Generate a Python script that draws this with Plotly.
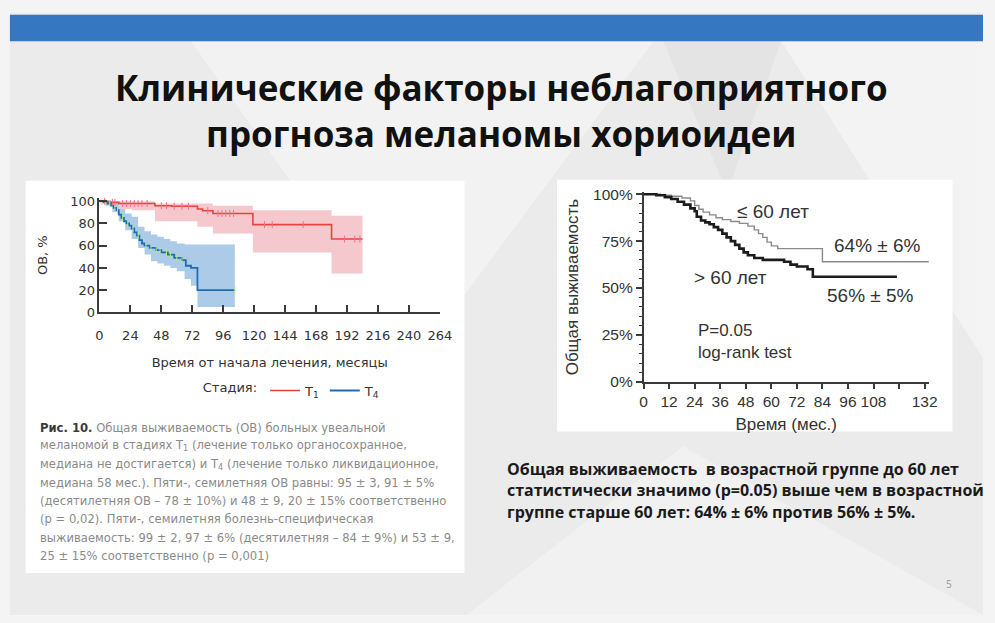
import numpy as np
import plotly.graph_objects as go

W, H = 995, 623

# ---------------- Left chart: overall survival by stage (months, %) ----------------
t1_time = [0, 8, 15, 43, 56, 76, 80, 88, 119, 180, 204]
t1_surv = [100, 99, 98, 96, 95.5, 93, 91.5, 89, 79, 66, 66]
t1_ci_time = [0, 5, 15, 25, 43, 76, 88, 119, 180, 204]
t1_ci_low = [100, 97, 93, 92, 82, 77, 71, 54, 35, 35]
t1_ci_up = [100, 100, 100, 100, 98, 98, 96, 92, 87, 87]
t1_censored = [4, 10, 12, 18, 21, 24, 27, 30, 33, 37, 48, 52, 58, 64, 69, 84,
               92, 95, 98, 101, 104, 128, 134, 158, 190, 198, 202]

t4_time = [0, 3, 6, 9, 11, 13, 15, 17, 19, 21, 23, 25, 27, 29, 31, 33, 35, 39,
           44, 48, 53, 58, 64, 67, 71, 76, 105]
t4_surv = [100, 99, 98, 96, 94, 92, 88, 85, 82, 80, 78, 75.5, 72, 69, 65, 62, 60,
           58, 56, 54, 52, 49, 47, 42, 40, 20, 20]
t4_ci_time = [0, 5, 10, 15, 20, 25, 30, 35, 40, 45, 50, 55, 60, 66, 71, 76, 105]
t4_ci_up = [100, 100, 98, 93, 89, 86, 77, 73, 70, 68, 66, 64, 62, 61, 61, 61, 61]
t4_ci_low = [100, 96, 90, 82, 74, 66, 58, 52, 46, 44, 42, 40, 37, 30, 24, 5, 5]
t4_censored = [2, 5, 8, 12, 14, 18, 22, 26, 30, 36, 40, 44, 47, 52, 55, 60, 64, 105]

left_xticks = list(range(0, 265, 24))
left_yticks = list(range(0, 101, 20))

# ---------------- Right chart: overall survival by age group ----------------
young_time = [0, 8, 13, 18, 22, 24, 26, 28, 31, 34, 37, 41, 45, 49, 52, 54, 56, 58,
              60, 63, 84, 134]
young_surv = [100, 99.5, 99, 98, 96.5, 94, 92, 90.5, 89, 87.5, 86.5, 85.5, 84.5, 83,
              81, 79, 77, 74.5, 72.5, 71, 64, 64]
young_err = 6
old_time = [0, 6, 10, 13, 16, 19, 22, 24, 25, 27, 29, 31, 33, 35, 37, 39, 41, 43, 45,
            47, 49, 52, 56, 66, 69, 72, 77, 79.5, 119]
old_surv = [100, 99.5, 98.5, 97.5, 96, 94.5, 92.5, 91, 88, 86, 85, 84, 82.5, 81, 79,
            77, 75, 73, 71, 69, 67.5, 66, 65, 64, 62.5, 61.5, 60, 56, 56]
old_err = 5

# labelled ticks every 12 months (120 carries a tick but no label)
right_xticks = [0, 12, 24, 36, 48, 60, 72, 84, 96, 108, 132]
right_xtick_step = 12
right_yticks = [0, 25, 50, 75, 100]
right_ylabels = [f"{v}%" for v in right_yticks]

caption_lines = [
    "<b><span style='color:#3a3a3a'>Рис. 10.</span></b> Общая выживаемость (ОВ) больных увеальной",
    "меланомой в стадиях T<sub>1</sub> (лечение только органосохранное,",
    "медиана не достигается) и T<sub>4</sub> (лечение только ликвидационное,",
    "медиана 58 мес.). Пяти-, семилетняя ОВ равны: 95 ± 3, 91 ± 5%",
    "(десятилетняя ОВ – 78 ± 10%) и 48 ± 9, 20 ± 15% соответственно",
    "(p = 0,02). Пяти-, семилетняя болезнь-специфическая",
    "выживаемость: 99 ± 2, 97 ± 6% (десятилетняя – 84 ± 9%) и 53 ± 9,",
    "25 ± 15% соответственно (p = 0,001)",
]
summary_lines = [
    "Общая выживаемость  в возрастной группе до 60 лет",
    "статистически значимо (p=0.05) выше чем в возрастной",
    "группе старше 60 лет: 64% ± 6% против 56% ± 5%.",
]
title_lines = ["Клинические факторы неблагоприятного", "прогноза меланомы хориоидеи"]


def px(x):
    return x / W


def py(y):
    return 1 - y / H


def step_value(times, values, at):
    idx = np.searchsorted(np.asarray(times), np.asarray(at), side="right") - 1
    return np.asarray(values)[idx]


RED = "#e2453c"
BLUE = "#1f6db0"
LEFT_FONT = "DejaVu Sans"
RIGHT_FONT = "Liberation Sans, Arial"

fig = go.Figure()

# confidence bands
fig.add_trace(go.Scatter(x=t1_ci_time, y=t1_ci_low, mode="lines", line=dict(width=0, shape="hv"),
                         showlegend=False, hoverinfo="skip", xaxis="x", yaxis="y"))
fig.add_trace(go.Scatter(x=t1_ci_time, y=t1_ci_up, mode="lines", line=dict(width=0, shape="hv"),
                         fill="tonexty", fillcolor="rgba(228,110,125,0.38)",
                         showlegend=False, hoverinfo="skip", xaxis="x", yaxis="y"))
fig.add_trace(go.Scatter(x=t4_ci_time, y=t4_ci_low, mode="lines", line=dict(width=0, shape="hv"),
                         showlegend=False, hoverinfo="skip", xaxis="x", yaxis="y"))
fig.add_trace(go.Scatter(x=t4_ci_time, y=t4_ci_up, mode="lines", line=dict(width=0, shape="hv"),
                         fill="tonexty", fillcolor="rgba(70,140,205,0.45)",
                         showlegend=False, hoverinfo="skip", xaxis="x", yaxis="y"))

# survival curves
fig.add_trace(go.Scatter(x=t1_time, y=t1_surv, mode="lines", name="T<sub>1</sub>",
                         line=dict(color=RED, width=1.6, shape="hv"), xaxis="x", yaxis="y"))
fig.add_trace(go.Scatter(x=t4_time, y=t4_surv, mode="lines", name="T<sub>4</sub>",
                         line=dict(color=BLUE, width=1.8, shape="hv"), xaxis="x", yaxis="y"))

# censored observations
fig.add_trace(go.Scatter(x=t1_censored, y=step_value(t1_time, t1_surv, t1_censored), mode="markers",
                         marker=dict(symbol="line-ns-open", size=5, line=dict(color=RED, width=1)),
                         showlegend=False, hoverinfo="skip", xaxis="x", yaxis="y"))
fig.add_trace(go.Scatter(x=t4_censored, y=step_value(t4_time, t4_surv, t4_censored), mode="markers",
                         marker=dict(symbol="line-ns-open", size=5, line=dict(color=BLUE, width=1)),
                         showlegend=False, hoverinfo="skip", xaxis="x", yaxis="y"))

# right chart curves
fig.add_trace(go.Scatter(x=young_time, y=young_surv, mode="lines", name="≤ 60 лет",
                         line=dict(color="#8a8a8a", width=1.4, shape="hv"),
                         showlegend=False, xaxis="x2", yaxis="y2"))
fig.add_trace(go.Scatter(x=old_time, y=old_surv, mode="lines", name="> 60 лет",
                         line=dict(color="#1c1c1c", width=2.6, shape="hv"),
                         showlegend=False, xaxis="x2", yaxis="y2"))

shapes = [
    # slide
    dict(type="rect", xref="paper", yref="paper", x0=px(6), x1=1, y0=0, y1=py(6),
         fillcolor="#ebebeb", line=dict(width=0), layer="below"),
    dict(type="path", xref="paper", yref="paper", layer="below", line=dict(width=0),
         fillcolor="#f2f2f2",
         path=f"M {px(190)} {py(35)} L {px(660)} {py(35)} L {px(420)} {py(360)} Z"),
    dict(type="path", xref="paper", yref="paper", layer="below", line=dict(width=0),
         fillcolor="#f3f3f3",
         path=f"M {px(790)} {py(35)} L {px(995)} {py(35)} L {px(995)} {py(360)} Z"),
    dict(type="path", xref="paper", yref="paper", layer="below", line=dict(width=0),
         fillcolor="#e4e4e4",
         path=f"M {px(670)} {py(35)} L {px(790)} {py(35)} L {px(735)} {py(190)} Z"),
    dict(type="path", xref="paper", yref="paper", layer="below", line=dict(width=0),
         fillcolor="#f1f1f1",
         path=f"M {px(470)} {py(623)} L {px(690)} {py(450)} L {px(995)} {py(623)} Z"),
    # header bar
    dict(type="rect", xref="paper", yref="paper", x0=px(6), x1=1, y0=py(35), y1=py(8),
         fillcolor="#3577c1", line=dict(width=0), layer="below"),
    # chart panels
    dict(type="rect", xref="paper", yref="paper", x0=px(22), x1=px(468), y0=py(580), y1=py(178),
         fillcolor="#ffffff", line=dict(width=0), layer="below"),
    dict(type="rect", xref="paper", yref="paper", x0=px(562), x1=px(964), y0=py(435), y1=py(177),
         fillcolor="#ffffff", line=dict(width=0), layer="below"),
]

annotations = [
    dict(text="<b>" + "<br>".join(title_lines) + "</b>", xref="paper", yref="paper",
         x=px(506), y=py(106), xanchor="center", yanchor="middle", align="center",
         showarrow=False, font=dict(family="Open Sans", size=35, color="#111111")),
]
for i, line in enumerate(caption_lines):
    annotations.append(dict(text=line, xref="paper", yref="paper", x=px(35), y=py(431 + 18.8 * i),
                            xanchor="left", yanchor="middle", showarrow=False,
                            font=dict(family=LEFT_FONT, size=11.6, color="#8a8a8a")))
for i, line in enumerate(summary_lines):
    annotations.append(dict(text=f"<b>{line}</b>", xref="paper", yref="paper", x=px(509),
                            y=py(473 + 22 * i), xanchor="left", yanchor="middle", showarrow=False,
                            font=dict(family="Open Sans", size=16, color="#1a1a1a")))

rfont = dict(family=RIGHT_FONT, size=19, color="#333333")
annotations += [
    dict(text="≤ 60 лет", xref="x2", yref="y2", x=61, y=90.6, showarrow=False, font=rfont),
    dict(text=f"{young_surv[-1]:g}% ± {young_err}%", xref="x2", yref="y2", x=110, y=72.5,
         showarrow=False, font=rfont),
    dict(text="> 60 лет", xref="x2", yref="y2", x=41, y=55.5, showarrow=False, font=rfont),
    dict(text=f"{old_surv[-1]:g}% ± {old_err}%", xref="x2", yref="y2", x=106.5, y=46,
         showarrow=False, font=rfont),
    dict(text="P=0.05<br>log-rank test", xref="x2", yref="y2", x=24.5, y=21.7,
         xanchor="left", yanchor="middle", align="left", showarrow=False,
         font=dict(family=RIGHT_FONT, size=17, color="#333333")),
    dict(text="5", xref="paper", yref="paper", x=px(966), y=py(600), showarrow=False,
         font=dict(family="Open Sans", size=10, color="#9a9a9a")),
]

axis_common = dict(showgrid=False, zeroline=False, showline=True, linecolor="#3a3a3a",
                   linewidth=1.5, tickcolor="#3a3a3a", tickwidth=1.5)

fig.update_layout(
    width=W, height=H, margin=dict(l=0, r=0, t=0, b=0),
    paper_bgcolor="#f4f4f4", plot_bgcolor="rgba(0,0,0,0)",
    shapes=shapes, annotations=annotations,
    xaxis=dict(domain=[px(97), px(443)], range=[0, 264], anchor="y",
               tickmode="array", tickvals=left_xticks, ticks="inside", ticklen=8,
               ticklabelstandoff=10,
               tickfont=dict(family=LEFT_FONT, size=13, color="#333333"),
               title=dict(text="Время от начала лечения, месяцы", standoff=16,
                          font=dict(family=LEFT_FONT, size=13, color="#333333")),
               **axis_common),
    yaxis=dict(domain=[py(313), py(195.6)], range=[0, 103], anchor="x",
               tickmode="array", tickvals=left_yticks, ticks="inside", ticklen=8,
               tickfont=dict(family=LEFT_FONT, size=13, color="#333333"),
               title=dict(text="ОВ, %", standoff=20,
                          font=dict(family=LEFT_FONT, size=13, color="#333333")),
               **axis_common),
    xaxis2=dict(domain=[px(650), px(940)], range=[0, 134], anchor="y2",
                tickmode="array", tickvals=right_xticks,
                ticks="outside", ticklen=5,
                minor=dict(tickmode="linear", tick0=0, dtick=right_xtick_step, ticks="outside",
                           ticklen=5, tickcolor="#3a3a3a", tickwidth=1.5, showgrid=False),
                tickfont=dict(family=RIGHT_FONT, size=15.5, color="#333333"),
                title=dict(text="Время (мес.)", standoff=9,
                           font=dict(family=RIGHT_FONT, size=17, color="#333333")),
                **axis_common),
    yaxis2=dict(domain=[py(384), py(190)], range=[0, 101], anchor="x2",
                tickmode="array", tickvals=right_yticks, ticktext=right_ylabels,
                ticks="outside", ticklen=6,
                minor=dict(tickmode="linear", tick0=0, dtick=5, ticks="outside", ticklen=3,
                           tickcolor="#3a3a3a", tickwidth=1, showgrid=False),
                tickfont=dict(family=RIGHT_FONT, size=15.5, color="#333333"),
                title=dict(text="Общая выживаемость", standoff=10,
                           font=dict(family=RIGHT_FONT, size=17, color="#333333")),
                **axis_common),
    legend=dict(orientation="h", x=px(200), y=py(393), xanchor="left", yanchor="middle",
                traceorder="normal", bgcolor="rgba(0,0,0,0)",
                title=dict(text="Стадия:", side="left",
                           font=dict(family=LEFT_FONT, size=13, color="#333333")),
                font=dict(family=LEFT_FONT, size=13, color="#333333"), itemwidth=30),
)

fig.write_html("out.html")
